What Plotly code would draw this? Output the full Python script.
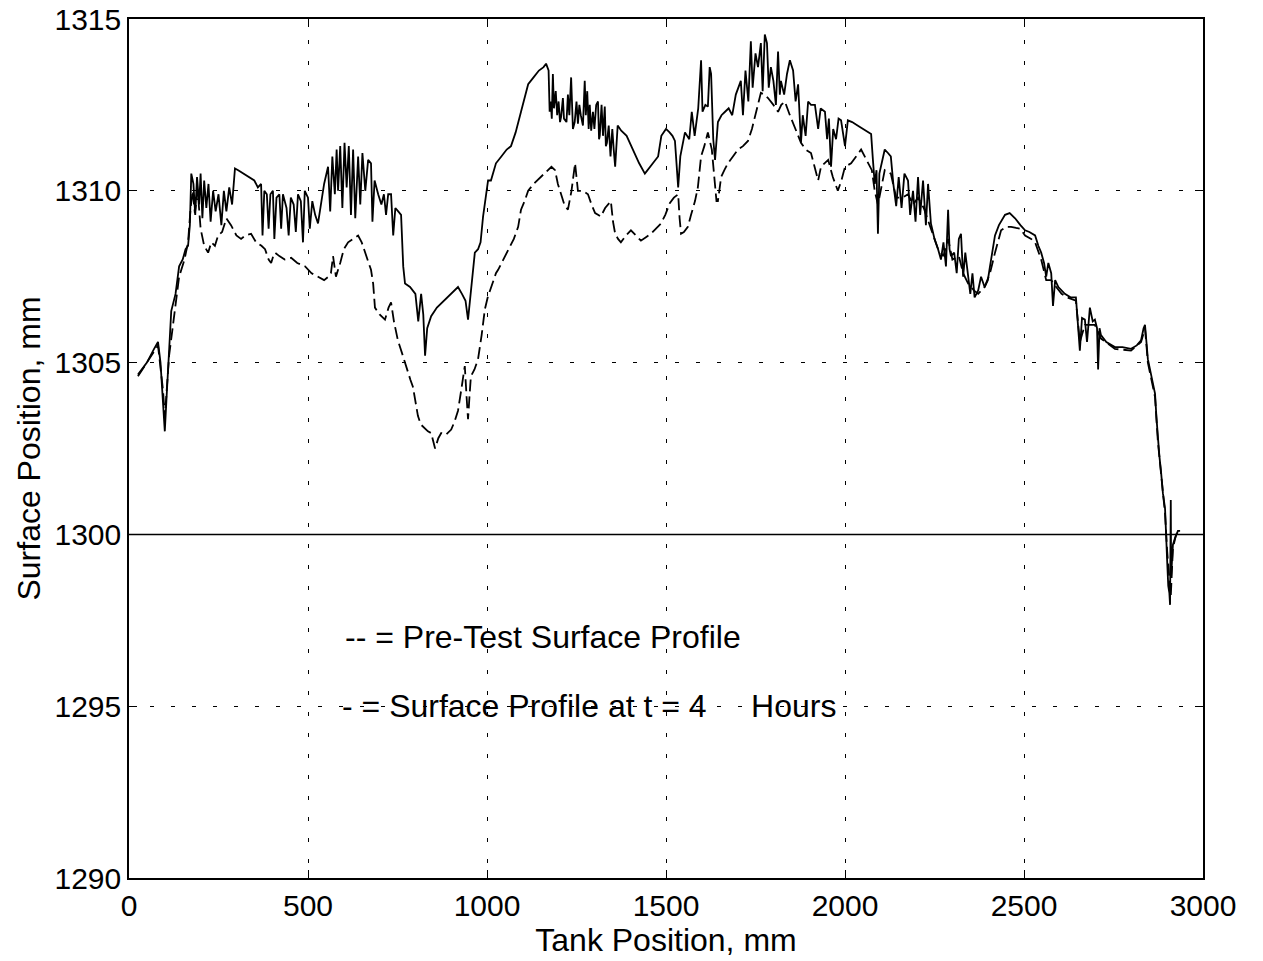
import plotly.graph_objects as go

# Surface profiles along the tank (x = tank position in mm, y = surface position in mm)
post_profile = [
    (25, 1304.65), (50, 1305.0), (70, 1305.4), (81, 1305.6), (88, 1305.0), (95, 1303.8), (100, 1303.0),
    (105, 1304.0), (112, 1305.5), (118, 1306.5), (130, 1307.0), (140, 1307.8), (150, 1308.0), (158, 1308.3),
    (165, 1308.4), (170, 1309.0), (174, 1310.5), (180, 1310.2), (185, 1309.3), (190, 1310.4), (196, 1309.6),
    (200, 1310.5), (205, 1309.2), (210, 1310.3), (216, 1309.5), (222, 1310.2), (228, 1309.1), (235, 1310.0),
    (242, 1309.4), (250, 1309.9), (258, 1309.0), (265, 1310.0), (272, 1309.4), (280, 1310.1), (288, 1309.6),
    (296, 1310.65), (305, 1310.6), (320, 1310.5), (335, 1310.4), (350, 1310.3), (360, 1310.1), (369, 1310.2),
    (373, 1308.7), (378, 1310.0), (385, 1309.9), (390, 1308.9), (395, 1309.9), (402, 1310.0), (406, 1308.6),
    (412, 1309.8), (420, 1309.9), (425, 1308.9), (430, 1309.9), (440, 1309.5), (446, 1308.7), (452, 1309.8),
    (460, 1309.6), (466, 1308.8), (472, 1309.9), (480, 1309.7), (486, 1308.5), (491, 1310.0), (500, 1309.8),
    (505, 1308.9), (512, 1309.7), (520, 1309.3), (528, 1309.05), (535, 1309.5), (545, 1310.2), (556, 1310.7),
    (562, 1309.4), (568, 1311.0), (575, 1309.9), (580, 1311.2), (584, 1310.0), (590, 1311.3), (596, 1309.5),
    (602, 1311.4), (608, 1310.1), (614, 1311.3), (620, 1309.3), (626, 1311.2), (632, 1309.2), (640, 1311.0),
    (646, 1309.6), (652, 1311.1), (660, 1310.0), (668, 1310.9), (676, 1310.8), (680, 1309.1), (686, 1310.3),
    (696, 1309.9), (705, 1309.6), (712, 1309.9), (718, 1309.3), (724, 1309.9), (732, 1309.9), (738, 1308.7),
    (744, 1309.5), (752, 1309.4), (760, 1309.3), (766, 1307.8), (771, 1307.3), (785, 1307.2), (800, 1307.0),
    (808, 1306.2), (816, 1307.0), (822, 1306.4), (827, 1305.2), (833, 1306.0), (844, 1306.35), (860, 1306.6),
    (880, 1306.8), (900, 1307.0), (919, 1307.2), (930, 1307.0), (940, 1306.8), (947, 1306.25), (955, 1307.0),
    (960, 1307.6), (966, 1308.2), (975, 1308.3), (982, 1308.5), (989, 1309.25), (996, 1309.8), (1003, 1310.3),
    (1011, 1310.3), (1025, 1310.8), (1040, 1311.0), (1055, 1311.2), (1067, 1311.3), (1080, 1311.7),
    (1095, 1312.3), (1105, 1312.7), (1115, 1313.1), (1130, 1313.3), (1145, 1313.5), (1158, 1313.6),
    (1165, 1313.7), (1172, 1313.5), (1175, 1312.3), (1178, 1312.6), (1181, 1312.1), (1184, 1313.4),
    (1187, 1312.4), (1192, 1312.9), (1196, 1312.2), (1200, 1312.6), (1204, 1312.0), (1207, 1312.15),
    (1212, 1312.7), (1215, 1312.1), (1222, 1312.0), (1226, 1312.8), (1230, 1312.2), (1235, 1313.3),
    (1238, 1312.1), (1240, 1311.8), (1245, 1312.0), (1250, 1312.6), (1254, 1311.95), (1258, 1312.5),
    (1262, 1312.2), (1268, 1311.9), (1273, 1313.2), (1276, 1312.2), (1280, 1312.9), (1284, 1311.8),
    (1287, 1312.5), (1291, 1311.75), (1296, 1312.3), (1300, 1311.8), (1305, 1312.5), (1310, 1312.6),
    (1313, 1311.5), (1315, 1311.6), (1320, 1312.5), (1324, 1311.6), (1329, 1312.45), (1332, 1311.3),
    (1335, 1311.4), (1340, 1311.9), (1345, 1311.0), (1350, 1311.8), (1354, 1311.2), (1358, 1310.7),
    (1365, 1311.9), (1375, 1311.75), (1390, 1311.6), (1403, 1311.3), (1415, 1311.0), (1425, 1310.8),
    (1441, 1310.5), (1455, 1310.7), (1470, 1310.9), (1478, 1311.0), (1487, 1311.6), (1500, 1311.8),
    (1510, 1311.7), (1518, 1311.6), (1525, 1311.45), (1530, 1310.5), (1534, 1310.1), (1540, 1311.0),
    (1553, 1311.7), (1565, 1311.5), (1572, 1312.3), (1580, 1311.6), (1590, 1312.4), (1598, 1313.8),
    (1602, 1312.3), (1610, 1312.5), (1617, 1312.45), (1622, 1313.6), (1626, 1313.4), (1632, 1311.5),
    (1637, 1310.9), (1645, 1312.0), (1655, 1312.2), (1665, 1312.3), (1675, 1312.4), (1685, 1312.2),
    (1695, 1312.8), (1709, 1313.2), (1715, 1312.2), (1722, 1313.5), (1730, 1312.6), (1737, 1314.35),
    (1742, 1313.0), (1750, 1314.0), (1757, 1313.6), (1765, 1314.3), (1770, 1312.9), (1776, 1314.55),
    (1782, 1314.3), (1787, 1313.0), (1793, 1313.6), (1800, 1313.2), (1807, 1312.5), (1813, 1314.05),
    (1818, 1312.8), (1821, 1313.2), (1830, 1312.8), (1838, 1313.4), (1846, 1313.8), (1855, 1313.5),
    (1862, 1312.6), (1869, 1313.1), (1877, 1311.4), (1882, 1312.2), (1890, 1311.6), (1897, 1312.6),
    (1905, 1312.5), (1916, 1312.5), (1925, 1311.8), (1932, 1312.4), (1944, 1312.3), (1950, 1311.5),
    (1955, 1312.1), (1961, 1310.7), (1967, 1311.8), (1975, 1311.5), (1982, 1312.1), (1989, 1312.05),
    (2000, 1311.3), (2008, 1312.05), (2020, 1312.0), (2035, 1311.9), (2050, 1311.8), (2062, 1311.7),
    (2073, 1311.65), (2078, 1310.9), (2083, 1310.2), (2088, 1310.6), (2092, 1308.75), (2096, 1310.5),
    (2102, 1310.8), (2111, 1311.2), (2120, 1311.1), (2128, 1311.0), (2135, 1310.2), (2143, 1309.55),
    (2150, 1310.4), (2158, 1309.5), (2166, 1310.5), (2176, 1310.3), (2182, 1309.3), (2190, 1310.0),
    (2197, 1309.1), (2204, 1310.4), (2210, 1309.3), (2218, 1310.3), (2226, 1309.0), (2232, 1310.2),
    (2240, 1309.05), (2250, 1308.6), (2260, 1308.3), (2268, 1308.0), (2275, 1308.5), (2282, 1307.8),
    (2288, 1309.45), (2292, 1308.3), (2296, 1308.1), (2305, 1308.2), (2312, 1307.6), (2318, 1308.6),
    (2324, 1308.75), (2330, 1307.5), (2336, 1308.2), (2344, 1307.4), (2350, 1307.0), (2356, 1307.6),
    (2362, 1306.9), (2372, 1307.1), (2380, 1307.5), (2390, 1307.2), (2399, 1307.4), (2405, 1307.8),
    (2412, 1308.2), (2419, 1308.7), (2430, 1309.0), (2447, 1309.3), (2460, 1309.35), (2475, 1309.2),
    (2490, 1309.0), (2503, 1308.85), (2515, 1308.8), (2531, 1308.7), (2540, 1308.4), (2548, 1308.2),
    (2556, 1307.9), (2562, 1307.5), (2568, 1307.9), (2576, 1307.6), (2581, 1306.65), (2587, 1307.4),
    (2596, 1307.2), (2605, 1307.1), (2614, 1307.0), (2630, 1306.9), (2645, 1306.9), (2650, 1306.2),
    (2656, 1305.35), (2662, 1306.3), (2670, 1306.25), (2676, 1305.6), (2684, 1306.6), (2692, 1306.2),
    (2698, 1306.25), (2704, 1306.0), (2707, 1304.8), (2711, 1306.0), (2715, 1305.8), (2730, 1305.6),
    (2754, 1305.45), (2775, 1305.45), (2799, 1305.4), (2815, 1305.5), (2827, 1305.65), (2834, 1306.0),
    (2838, 1306.1), (2842, 1305.6), (2846, 1305.1), (2856, 1304.6), (2866, 1304.1), (2870, 1303.4),
    (2874, 1302.75), (2878, 1302.3), (2883, 1301.8), (2888, 1301.2), (2894, 1300.75), (2897, 1300.15),
    (2900, 1299.2), (2903, 1298.5), (2906, 1298.3), (2908, 1297.95), (2910, 1301.0), (2911, 1298.8),
    (2914, 1299.5), (2916, 1299.7), (2922, 1299.9), (2930, 1300.1), (2936, 1300.1),
]

pre_profile = [
    (25, 1304.6), (50, 1305.0), (81, 1305.5), (95, 1304.2), (100, 1303.4), (112, 1305.2), (125, 1306.3),
    (140, 1307.5), (155, 1308.0), (165, 1308.5), (172, 1309.5), (178, 1310.0), (184, 1309.35), (192, 1310.0),
    (200, 1308.9), (210, 1308.4), (221, 1308.2), (230, 1308.5), (240, 1308.4), (249, 1308.7), (260, 1308.8),
    (272, 1309.2), (285, 1309.0), (300, 1308.7), (313, 1308.6), (325, 1308.7), (341, 1308.75), (355, 1308.5),
    (370, 1308.4), (380, 1308.3), (390, 1308.0), (397, 1307.9), (403, 1308.1), (408, 1308.2), (420, 1308.1),
    (435, 1308.0), (453, 1308.05), (470, 1307.9), (492, 1307.8), (510, 1307.6), (528, 1307.5), (545, 1307.4),
    (557, 1307.5), (564, 1307.6), (570, 1308.1), (578, 1307.5), (590, 1307.9), (600, 1308.3), (612, 1308.5),
    (625, 1308.6), (640, 1308.7), (650, 1308.5), (659, 1308.2), (666, 1308.0), (676, 1307.7), (682, 1307.3),
    (687, 1306.6), (700, 1306.4), (715, 1306.25), (725, 1306.6), (732, 1306.75), (740, 1306.2), (751, 1305.65),
    (765, 1305.2), (779, 1304.7), (786, 1304.5), (793, 1304.3), (800, 1303.9), (807, 1303.45), (815, 1303.2),
    (825, 1303.1), (835, 1303.0), (844, 1302.95), (855, 1302.5), (864, 1302.8), (872, 1302.95), (885, 1302.9),
    (900, 1303.05), (910, 1303.3), (919, 1303.6), (928, 1304.2), (938, 1304.9), (943, 1304.0), (947, 1303.35),
    (951, 1304.0), (955, 1304.6), (965, 1304.8), (975, 1305.1), (985, 1305.8), (994, 1306.55), (1002, 1306.9),
    (1011, 1307.2), (1025, 1307.6), (1031, 1307.7), (1045, 1308.0), (1059, 1308.3), (1075, 1308.6),
    (1087, 1308.95), (1095, 1309.45), (1105, 1309.7), (1115, 1310.0), (1130, 1310.2), (1151, 1310.4),
    (1170, 1310.6), (1180, 1310.7), (1190, 1310.6), (1198, 1310.2), (1207, 1309.9), (1216, 1309.6),
    (1226, 1309.45), (1236, 1310.0), (1246, 1310.8), (1250, 1310.3), (1254, 1310.0), (1268, 1310.0),
    (1282, 1309.9), (1292, 1309.6), (1302, 1309.35), (1310, 1309.3), (1318, 1309.25), (1330, 1309.5),
    (1346, 1309.7), (1352, 1309.1), (1358, 1308.75), (1366, 1308.6), (1374, 1308.5), (1388, 1308.7),
    (1402, 1308.85), (1416, 1308.7), (1430, 1308.55), (1444, 1308.65), (1458, 1308.75), (1472, 1308.9),
    (1486, 1309.05), (1498, 1309.3), (1511, 1309.65), (1522, 1309.8), (1534, 1309.9), (1538, 1309.2),
    (1542, 1308.75), (1550, 1308.8), (1561, 1308.95), (1570, 1309.3), (1581, 1309.7), (1589, 1310.1),
    (1598, 1311.0), (1607, 1311.3), (1617, 1311.7), (1628, 1311.2), (1636, 1310.4), (1641, 1309.7),
    (1645, 1309.7), (1654, 1310.4), (1663, 1310.6), (1673, 1310.8), (1687, 1311.0), (1701, 1311.2),
    (1715, 1311.3), (1729, 1311.45), (1740, 1311.8), (1749, 1312.15), (1757, 1312.5), (1765, 1312.85),
    (1775, 1312.8), (1785, 1312.7), (1800, 1312.5), (1813, 1312.3), (1822, 1312.5), (1832, 1312.6),
    (1846, 1312.2), (1860, 1311.85), (1868, 1311.6), (1877, 1311.4), (1890, 1311.2), (1905, 1311.1),
    (1915, 1310.7), (1925, 1310.3), (1933, 1310.7), (1943, 1310.8), (1953, 1310.9), (1966, 1310.4),
    (1980, 1310.0), (1990, 1310.3), (2000, 1310.7), (2017, 1310.8), (2030, 1311.0), (2045, 1311.2),
    (2055, 1311.0), (2064, 1310.8), (2075, 1310.6), (2083, 1310.0), (2092, 1309.6), (2111, 1310.6),
    (2128, 1310.5), (2143, 1309.8), (2160, 1309.8), (2176, 1309.9), (2190, 1309.6), (2204, 1309.8),
    (2220, 1309.5), (2240, 1308.9), (2260, 1308.3), (2275, 1308.1), (2288, 1308.6), (2300, 1308.0),
    (2318, 1308.1), (2330, 1307.6), (2344, 1307.3), (2360, 1307.1), (2372, 1307.0), (2390, 1307.2),
    (2405, 1307.6), (2419, 1308.2), (2436, 1308.85), (2450, 1308.95), (2464, 1308.95), (2478, 1308.92),
    (2489, 1308.9), (2503, 1308.7), (2520, 1308.6), (2531, 1308.5), (2548, 1308.0), (2562, 1307.4),
    (2576, 1307.4), (2590, 1307.2), (2605, 1307.0), (2620, 1306.9), (2645, 1306.8), (2656, 1305.6),
    (2670, 1306.1), (2698, 1306.1), (2715, 1305.7), (2754, 1305.4), (2799, 1305.35), (2827, 1305.6),
    (2838, 1306.0), (2846, 1305.0), (2866, 1304.0), (2874, 1302.7), (2883, 1301.7), (2894, 1300.6),
    (2900, 1299.5), (2906, 1298.6), (2910, 1298.2), (2916, 1299.6), (2925, 1300.0), (2936, 1300.1),
]

reference_level = 1300
x_ticks = [0, 500, 1000, 1500, 2000, 2500, 3000]
y_ticks = [1290, 1295, 1300, 1305, 1310, 1315]
legend_lines = ["-- = Pre-Test Surface Profile",
                "- = Surface Profile at t = 4\u00a0\u00a0\u00a0\u00a0\u00a0Hours"]

FONT = "Liberation Sans, Arial, Helvetica, sans-serif"
TICK_SIZE = 30
TEXT_SIZE = 32

fig = go.Figure()
fig.add_trace(go.Scatter(
    x=[p[0] for p in post_profile], y=[p[1] for p in post_profile],
    mode="lines", line=dict(color="black", width=1.8), showlegend=False,
))
fig.add_trace(go.Scatter(
    x=[p[0] for p in pre_profile], y=[p[1] for p in pre_profile],
    mode="lines", line=dict(color="black", width=1.8, dash="12px,5px"), showlegend=False,
))

fig.add_hline(y=reference_level, line=dict(color="black", width=1.5))

fig.add_annotation(x=598, y=1297, text=legend_lines[0], showarrow=False,
                   xanchor="left", yanchor="middle", font=dict(size=TEXT_SIZE, color="black", family=FONT))
fig.add_annotation(x=589, y=1295, text=legend_lines[1], showarrow=False,
                   xanchor="left", yanchor="middle", font=dict(size=TEXT_SIZE, color="black", family=FONT))

axis_common = dict(
    showline=True, linecolor="black", linewidth=1.5, mirror="ticks",
    ticks="inside", ticklen=8, tickwidth=1, tickcolor="black",
    showgrid=True, gridcolor="black", gridwidth=1, griddash="4px,17px",
    zeroline=False, ticklabeloverflow="allow", automargin=False,
    tickfont=dict(size=TICK_SIZE, color="black", family=FONT),
)

fig.update_xaxes(range=[0, 3000], tickvals=x_ticks, ticktext=[str(v) for v in x_ticks],
                 title=dict(text="Tank Position, mm", font=dict(size=TEXT_SIZE, color="black", family=FONT), standoff=0),
                 **axis_common)
fig.update_yaxes(range=[1290, 1315], tickvals=y_ticks, ticktext=[str(v) for v in y_ticks],
                 title=dict(text="Surface Position, mm", font=dict(size=TEXT_SIZE, color="black", family=FONT), standoff=4),
                 **axis_common)

fig.update_layout(
    width=1263, height=961,
    margin=dict(l=129, r=60, t=19, b=83),
    paper_bgcolor="white", plot_bgcolor="white",
    font=dict(family=FONT, color="black"),
)

fig.write_html("out.html")
